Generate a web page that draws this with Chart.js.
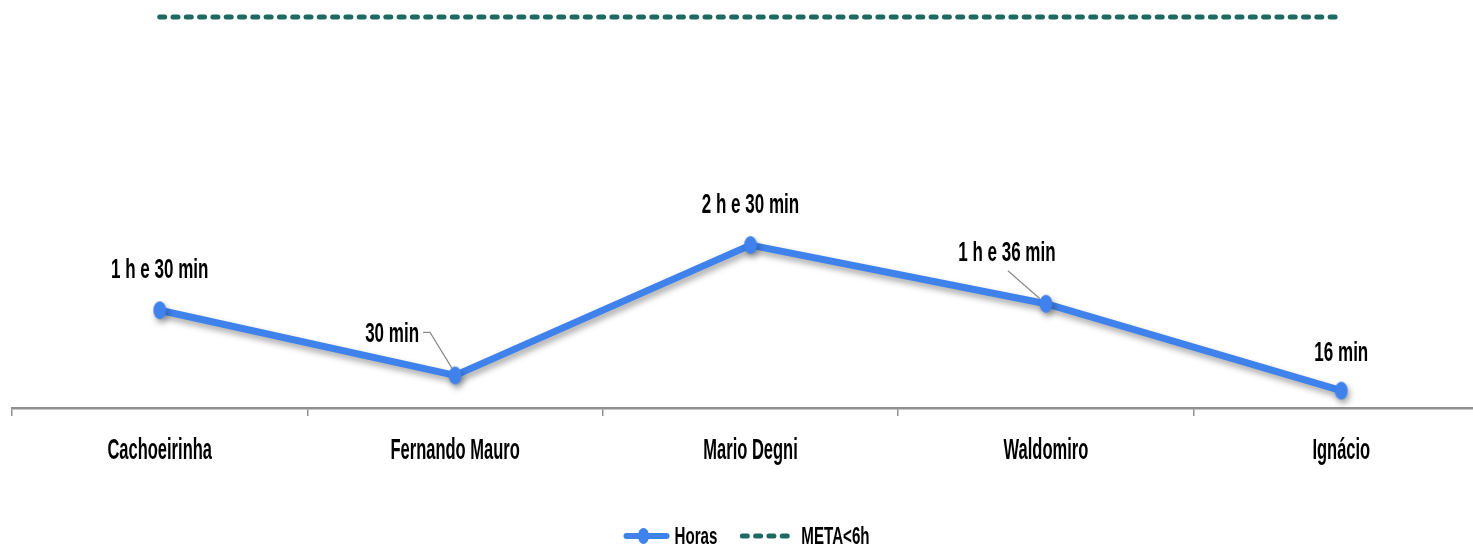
<!DOCTYPE html>
<html>
<head>
<meta charset="utf-8">
<script src="https://cdn.jsdelivr.net/npm/chart.js@4"></script>
<style>
  html, body { margin: 0; padding: 0; background: #ffffff; overflow: hidden; }
  body { width: 1473px; height: 547px; }
  /* plot runs past the right edge of the picture, as in the original */
  #wrap { width: 1489px; height: 547px; }
  canvas { display: block; }
</style>
</head>
<body>
<div id="wrap"><canvas id="chart"></canvas></div>
<script>
// ── Data ──────────────────────────────────────────────────────
const categories  = ['Cachoeirinha', 'Fernando Mauro', 'Mario Degni', 'Waldomiro', 'Ignácio'];
const horas       = [1.5, 0.5, 2.5, 1.6, 0.267];
const horasLabels = ['1 h e 30 min', '30 min', '2 h e 30 min', '1 h e 36 min', '16 min'];
const meta        = [6, 6, 6, 6, 6];

const BLUE  = '#3F82EC';
const TEAL  = '#1E6A62';
const FONT  = '"Liberation Sans", Arial, sans-serif';
const VIEW_W = 1473;   // visible width of the picture

// label baseline offsets from the point, and leader line flag
const LABEL_POS = [
  { dx: 0,   dy: -32, leader: false },
  { dx: -63, dy: -33, leader: true  },
  { dx: 0,   dy: -32, leader: false },
  { dx: -39, dy: -43, leader: true  },
  { dx: 0,   dy: -30, leader: false }
];

// narrow bold text (the original uses a condensed face)
function narrowText(ctx, text, x, y, size, sx, align) {
  ctx.save();
  ctx.translate(x, y);
  ctx.scale(sx, 1);
  ctx.font = 'bold ' + size + 'px ' + FONT;
  ctx.textAlign = align || 'center';
  ctx.textBaseline = 'alphabetic';
  ctx.fillStyle = '#000';
  ctx.fillText(text, 0, 0);
  const w = ctx.measureText(text).width * sx;
  ctx.restore();
  return w;
}
function narrowWidth(ctx, text, size, sx) {
  ctx.save();
  ctx.font = 'bold ' + size + 'px ' + FONT;
  const w = ctx.measureText(text).width * sx;
  ctx.restore();
  return w;
}

// ── Point marker ──────────────────────────────────────────────
function marker() {
  const c = document.createElement('canvas');
  c.width = 14; c.height = 20;
  const g = c.getContext('2d');
  g.fillStyle = BLUE;
  g.beginPath(); g.ellipse(7, 10, 6.5, 9, 0, 0, Math.PI * 2); g.fill();
  return c;
}

// ── Labels, category names, legend ────────────────────────────
const textPlugin = {
  id: 'texts',
  afterDraw(chart) {
    const ctx = chart.ctx;
    const pts = chart.getDatasetMeta(0).data;
    const xs  = chart.scales.x;

    // value labels + leader lines
    pts.forEach(function (p, i) {
      const pos = LABEL_POS[i];
      const lx = p.x + pos.dx, ly = p.y + pos.dy;
      const w = narrowText(ctx, horasLabels[i], lx, ly, 27, 0.63, 'center');
      if (pos.leader) {
        ctx.save();
        ctx.strokeStyle = '#8a8a8a';
        ctx.lineWidth = 1.2;
        ctx.beginPath();
        if (i === 1) {
          ctx.moveTo(lx + w / 2 + 4, ly - 10);
          ctx.lineTo(lx + w / 2 + 11, ly - 10);
          ctx.lineTo(p.x - 3, p.y - 7);
        } else {
          ctx.moveTo(lx + 1, ly + 10);
          ctx.lineTo(p.x - 6, p.y - 5);
        }
        ctx.stroke();
        ctx.restore();
      }
    });

    // category names
    categories.forEach(function (c, i) {
      narrowText(ctx, c, xs.getPixelForValue(i), 459, 30, 0.55, 'center');
    });

    // legend
    const items = chart.data.datasets.map(function (ds, i) {
      return { text: ds.label, color: ds.borderColor, kind: i === 0 ? 'line' : 'dash' };
    });
    const SW = [46, 57], GAP = 5, ITEM_GAP = 22, LS = 24, LSX = 0.63;
    let total = 0;
    items.forEach(function (it, i) {
      it.tw = narrowWidth(ctx, it.text, LS, LSX);
      total += SW[i] + GAP + it.tw + (i ? ITEM_GAP : 0);
    });
    let x = VIEW_W / 2 + 10 - total / 2;
    const cy = 536;
    items.forEach(function (it, i) {
      if (i) x += ITEM_GAP;
      ctx.save();
      ctx.strokeStyle = it.color;
      ctx.lineCap = 'round';
      if (it.kind === 'line') {
        ctx.lineWidth = 6;
        ctx.beginPath(); ctx.moveTo(x + 3, cy); ctx.lineTo(x + SW[i] - 3, cy); ctx.stroke();
        ctx.fillStyle = it.color;
        ctx.beginPath(); ctx.ellipse(x + 20, cy, 5.5, 8, 0, 0, Math.PI * 2); ctx.fill();
      } else {
        ctx.lineWidth = 5;
        ctx.setLineDash([5, 8.3]);
        ctx.beginPath(); ctx.moveTo(x + 3, cy); ctx.lineTo(x + SW[i] - 3, cy); ctx.stroke();
      }
      ctx.restore();
      x += SW[i] + GAP;
      narrowText(ctx, it.text, x, 544, LS, LSX, 'left');
      x += it.tw;
    });
  }
};

// ── Soft shadow under the blue line ───────────────────────────
const shadowPlugin = {
  id: 'lineShadow',
  beforeDatasetDraw(chart, args) {
    if (args.index !== 0) return;
    chart.ctx.save();
    chart.ctx.shadowColor = 'rgba(0,0,0,0.35)';
    chart.ctx.shadowBlur = 6;
    chart.ctx.shadowOffsetX = 2;
    chart.ctx.shadowOffsetY = 4;
  },
  afterDatasetDraw(chart, args) {
    if (args.index !== 0) return;
    chart.ctx.restore();
  }
};

const pointImg = marker();

new Chart(document.getElementById('chart'), {
  type: 'line',
  data: {
    labels: categories,
    datasets: [
      {
        label: 'Horas',
        data: horas,
        borderColor: BLUE,
        backgroundColor: BLUE,
        borderWidth: 7,
        pointStyle: pointImg,
        pointRadius: 9,
        pointHoverRadius: 9,
        pointBorderWidth: 0,
        tension: 0,
        order: 1
      },
      {
        label: 'META<6h',
        data: meta,
        borderColor: TEAL,
        backgroundColor: TEAL,
        borderWidth: 5,
        borderDash: [5, 8.3],
        borderCapStyle: 'round',
        pointRadius: 0,
        tension: 0,
        order: 2
      }
    ]
  },
  options: {
    responsive: true,
    maintainAspectRatio: false,
    animation: false,
    layout: { autoPadding: false, padding: { left: 12, right: 0, top: 0, bottom: 0 } },
    scales: {
      x: {
        offset: true,
        afterFit: function (scale) { scale.height = 139; },
        grid: {
          offset: true,
          drawOnChartArea: false,
          drawTicks: true,
          tickLength: 8,
          color: '#8f8f8f',
          lineWidth: 1.5
        },
        border: { display: true, color: '#8f8f8f', width: 2.5 },
        ticks: { color: 'rgba(0,0,0,0)', font: { size: 12 } }
      },
      y: {
        display: false,
        min: 0,
        max: 6.26
      }
    },
    plugins: {
      tooltip: { enabled: false },
      legend: { display: false }
    }
  },
  plugins: [shadowPlugin, textPlugin]
});
</script>
</body>
</html>
